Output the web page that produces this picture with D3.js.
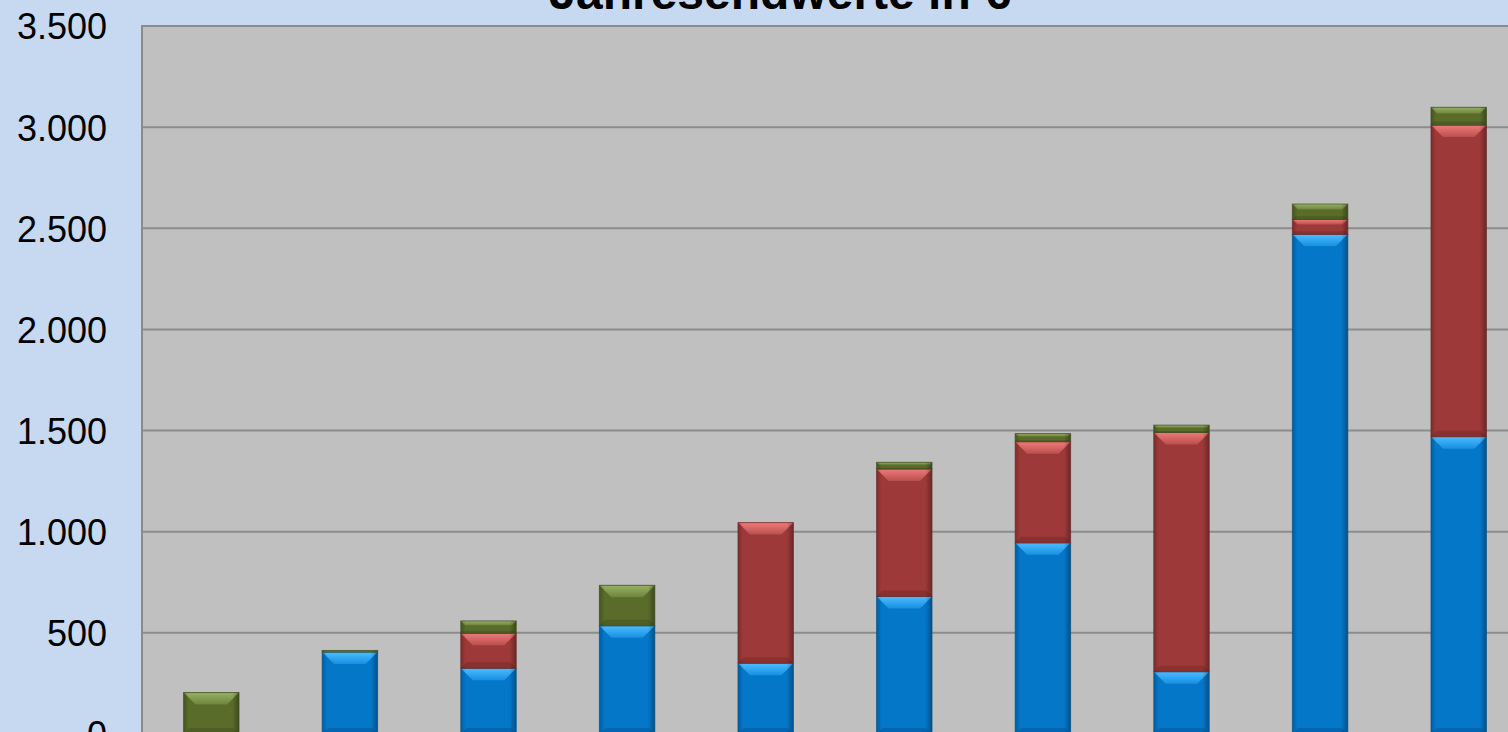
<!DOCTYPE html>
<html>
<head>
<meta charset="utf-8">
<script src="https://cdn.jsdelivr.net/npm/d3@7"></script>
<style>
  html, body { margin: 0; padding: 0; background: #c6d9f1; overflow: hidden; }
  svg { display: block; }
</style>
</head>
<body>
<svg id="chart" width="1508" height="732"></svg>
<script>
// ---- data ----
const title = "Jahresendwerte in €";
const categories = ["1", "2", "3", "4", "5", "6", "7", "8", "9", "10"];
const seriesNames = ["Blau", "Rot", "Grün"];
const blueValues  = [0, 405, 325, 535, 350, 680, 945, 308, 2470, 1470];
const redValues   = [0, 0, 173, 0, 695, 630, 500, 1183, 74, 1540];
const greenValues = [205, 8, 61, 200, 0, 33, 40, 36, 76, 88];
const yTicks = [0, 500, 1000, 1500, 2000, 2500, 3000, 3500];

// ---- layout ----
const W = 1508, H = 732;
const plot = { left: 142, top: 26, right: 1528, bottom: 734 };

const svg = d3.select("#chart");
const de = d3.formatLocale({ decimal: ",", thousands: ".", grouping: [3], currency: ["", " €"] });
const fmt = de.format(",");

const x = d3.scaleBand().domain(categories).range([plot.left, plot.right]).paddingInner(0.6).paddingOuter(0.3);
const y = d3.scaleLinear().domain([0, 3500]).range([plot.bottom, plot.top]);

const palette = {
  Blau:  { base: "#0477c9", light: "#4cbcff", mid: "#1790e0", dark: "#035a99", stroke: "#06528a" },
  Rot:   { base: "#9d3a39", light: "#ef7a78", mid: "#b9504e", dark: "#7a2a29", stroke: "#6e2a29" },
  "Grün":{ base: "#596c2a", light: "#98b265", mid: "#6e843c", dark: "#45541f", stroke: "#3f4c1d" }
};

svg.append("rect").attr("width", W).attr("height", H).attr("fill", "#c6d9f1");

const defs = svg.append("defs");
Object.entries(palette).forEach(([k, c], i) => {
  const g = defs.append("linearGradient").attr("id", "bev" + i).attr("x1", 0).attr("y1", 0).attr("x2", 0).attr("y2", 1);
  g.append("stop").attr("offset", "0%").attr("stop-color", c.light);
  g.append("stop").attr("offset", "100%").attr("stop-color", c.mid);
  c.grad = "url(#bev" + i + ")";
});
const side = defs.append("linearGradient").attr("id", "sideShade").attr("x1", 0).attr("y1", 0).attr("x2", 1).attr("y2", 0);
side.append("stop").attr("offset", "0%").attr("stop-color", "#000").attr("stop-opacity", 0.22);
side.append("stop").attr("offset", "9%").attr("stop-color", "#000").attr("stop-opacity", 0.0);
side.append("stop").attr("offset", "88%").attr("stop-color", "#000").attr("stop-opacity", 0.0);
side.append("stop").attr("offset", "100%").attr("stop-color", "#000").attr("stop-opacity", 0.32);

// plot area
svg.append("rect")
  .attr("x", plot.left).attr("y", plot.top)
  .attr("width", plot.right - plot.left).attr("height", plot.bottom - plot.top)
  .attr("fill", "#c0c0c0").attr("stroke", "#8a8a8a").attr("stroke-width", 2);

// gridlines
svg.append("g").selectAll("line").data(yTicks.filter(t => t > 0 && t < 3500)).join("line")
  .attr("x1", plot.left).attr("x2", plot.right)
  .attr("y1", d => y(d)).attr("y2", d => y(d))
  .attr("stroke", "#8c8c8c").attr("stroke-width", 2);

// y-axis labels
const yAxis = d3.axisLeft(y).tickValues(yTicks).tickFormat(fmt).tickSize(0).tickPadding(35);
const ga = svg.append("g").attr("transform", `translate(${plot.left},0)`).call(yAxis);
ga.select(".domain").remove();
ga.selectAll("text")
  .attr("font-family", "Liberation Sans, Arial, Helvetica, sans-serif")
  .attr("font-size", 36).attr("fill", "#000").attr("dy", "0.36em");

// stacked data
const rows = categories.map((c, i) => ({ cat: c, Blau: blueValues[i], Rot: redValues[i], "Grün": greenValues[i] }));
const stack = d3.stack().keys(seriesNames)(rows);

const bars = svg.append("g");
stack.forEach(layer => {
  const c = palette[layer.key];
  layer.forEach((d, i) => {
    const v = d[1] - d[0];
    if (v <= 0) return;
    const x0 = x(categories[i]), w = x.bandwidth();
    const yt = y(d[1]), yb = y(d[0]), h = yb - yt;
    const g = bars.append("g");
    g.append("rect").attr("x", x0).attr("y", yt).attr("width", w).attr("height", h).attr("fill", c.base);
    if (h > 6) {
      const b = Math.min(12, h * 0.35);
      g.append("polygon")
        .attr("points", [[x0, yt], [x0 + w, yt], [x0 + w - b, yt + b], [x0 + b, yt + b]].map(p => p.join(",")).join(" "))
        .attr("fill", c.grad);
      const bb = Math.min(6, h * 0.2);
      g.append("polygon")
        .attr("points", [[x0, yb], [x0 + w, yb], [x0 + w - bb, yb - bb], [x0 + bb, yb - bb]].map(p => p.join(",")).join(" "))
        .attr("fill", c.dark).attr("opacity", 0.55);
    } else {
      g.append("rect").attr("x", x0).attr("y", yt).attr("width", w).attr("height", Math.max(h * 0.5, 0.8)).attr("fill", c.light).attr("opacity", 0.6);
    }
    g.append("rect").attr("x", x0).attr("y", yt).attr("width", w).attr("height", h).attr("fill", "url(#sideShade)");
    g.append("rect").attr("x", x0).attr("y", yt).attr("width", w).attr("height", h)
      .attr("fill", "none").attr("stroke", c.stroke).attr("stroke-width", 1).attr("stroke-opacity", 0.7);
  });
});

// title
svg.append("text")
  .attr("x", 780).attr("y", 9)
  .attr("text-anchor", "middle")
  .attr("font-family", "Liberation Sans, Arial, Helvetica, sans-serif")
  .attr("font-weight", "bold").attr("font-size", 48).attr("fill", "#000")
  .text(title);
</script>
</body>
</html>
